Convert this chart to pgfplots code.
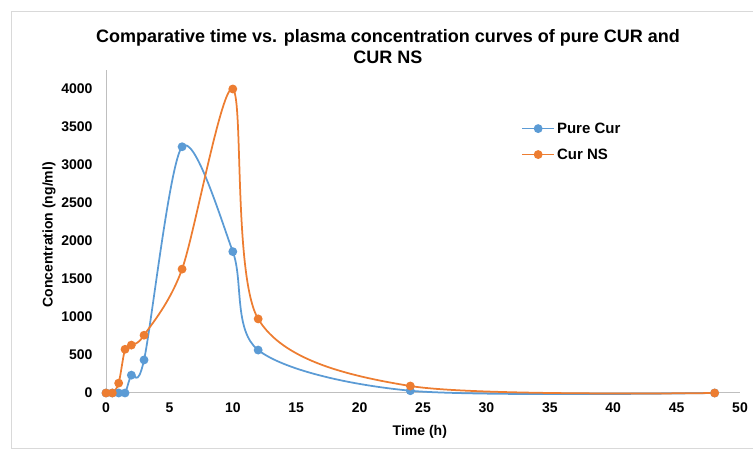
\documentclass[border=0pt]{standalone}
\usepackage{pgfplots}
\pgfplotsset{compat=1.18}
\usepackage{fontspec}
\setmainfont{Liberation Sans}
\definecolor{cblue}{HTML}{5B9BD5}
\definecolor{corange}{HTML}{ED7D31}
\definecolor{axgray}{HTML}{BFBFBF}
\definecolor{framegray}{HTML}{D9D9D9}
\begin{document}
\begin{tikzpicture}[x=1bp,y=1bp]
\path[use as bounding box] (0,0) rectangle (753,450);
\draw[framegray, line width=1bp] (11,1) rectangle (770,438);
\node[font=\fontsize{18bp}{21bp}\selectfont\bfseries, align=center] at (388,403.5)
  {Comparative time vs. plasma concentration curves of pure CUR and\\CUR NS};
\begin{axis}[
  at={(106bp,57bp)}, anchor=south west,
  scale only axis, width=634bp, height=323bp,
  xmin=0, xmax=50, ymin=0, ymax=4250,
  xtick={0,5,...,50}, ytick={0,500,...,4000},
  axis x line*=bottom, axis y line*=left,
  axis line style={-, draw=axgray, line width=1bp},
  major tick length=0pt, tick style={draw=none},
  /pgf/number format/assume math mode=true,
  /pgf/number format/1000 sep={},
  ticklabel style={font=\fontsize{14bp}{16bp}\selectfont\bfseries},
  yticklabel style={xshift=-10bp},
  xticklabel style={yshift=-6bp},
  xlabel={Time (h)}, ylabel={Concentration (ng/ml)},
  label style={font=\fontsize{14bp}{16bp}\selectfont\bfseries},
  xlabel style={at={(axis description cs:0.495,-0.121)}, anchor=center},
  ylabel style={at={(axis description cs:-0.09,0.49)}, anchor=center},
  legend style={at={(axis description cs:0.65,0.85)}, anchor=north west,
    draw=none, fill=none, font=\fontsize{15bp}{17bp}\selectfont\bfseries,
    row sep=10bp},
  legend cell align=left,
  legend image code/.code={\draw[mark repeat=2,mark phase=2,#1] plot coordinates {(0bp,0bp) (16bp,0bp) (32bp,0bp)};},
  clip=false,
]
\addplot[cblue, line width=1.75bp, smooth, mark=*, mark size=3.5bp, mark options={fill=cblue, draw=cblue}]
  coordinates {(0,0) (0.5,0) (1,0) (1.5,0) (2,235) (3,435) (6,3240) (10,1860) (12,565) (24,30) (48,0)};
\addlegendentry{Pure Cur}
\addplot[corange, line width=1.75bp, smooth, mark=*, mark size=3.5bp, mark options={fill=corange, draw=corange}]
  coordinates {(0,0) (0.5,0) (1,130) (1.5,575) (2,630) (3,760) (6,1630) (10,4000) (12,975) (24,92) (48,0)};
\addlegendentry{Cur NS}
\end{axis}
\end{tikzpicture}
\end{document}
